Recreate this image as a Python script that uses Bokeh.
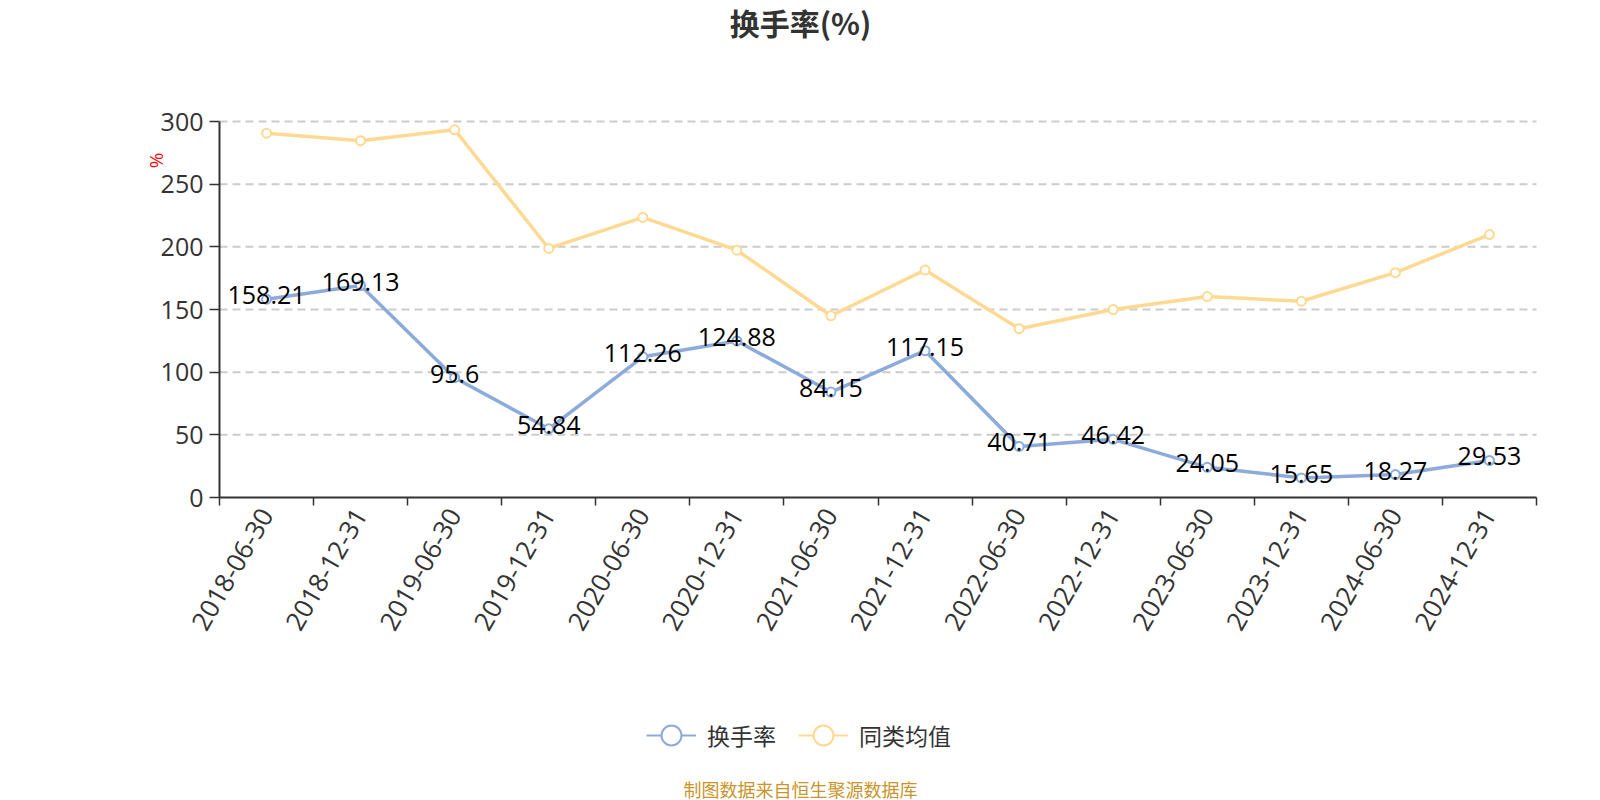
import math
from bokeh.plotting import figure
from bokeh.models import (ColumnDataSource, Range1d, FixedTicker, Label, Legend,
                          LegendItem)
from bokeh.embed import file_html
from bokeh.resources import INLINE

# Reporting dates (half-year)
dates = ["2018-06-30", "2018-12-31", "2019-06-30", "2019-12-31", "2020-06-30",
         "2020-12-31", "2021-06-30", "2021-12-31", "2022-06-30", "2022-12-31",
         "2023-06-30", "2023-12-31", "2024-06-30", "2024-12-31"]

# Turnover rate of the fund (%)
turnover = [158.21, 169.13, 95.6, 54.84, 112.26, 124.88, 84.15, 117.15,
            40.71, 46.42, 24.05, 15.65, 18.27, 29.53]

# Peer-group average turnover rate (%)
peer_avg = [290.7, 284.7, 293.4, 198.7, 223.5, 197.3, 145.0, 181.5,
            134.7, 150.0, 160.3, 156.6, 179.4, 209.8]

y_ticks = [0, 50, 100, 150, 200, 250, 300]

BLUE = "#8cabda"
YELLOW = "#ffd991"
AXIS = "#333333"
FONT = "Open Sans"
CJK = "Noto Sans CJK SC"

W, H = 1600, 800
# pixel box of the plotting area inside the canvas
LEFT, RIGHT, TOP, BOTTOM = 219, 1536, 121, 497
Y_MAX = 300

n = len(dates)
xs = [i + 0.5 for i in range(n)]

ux = (RIGHT - LEFT) / n          # px per category
uy = (BOTTOM - TOP) / Y_MAX      # px per percent

# the frame covers the whole canvas; axes sit at fixed data locations
p = figure(width=W, height=H, output_backend="svg", toolbar_location=None,
           x_range=Range1d(-LEFT / ux, n + (W - RIGHT) / ux),
           y_range=Range1d(-(H - BOTTOM) / uy, Y_MAX + TOP / uy),
           min_border=0, background_fill_color="white",
           border_fill_color="white")
p.outline_line_color = None
p.xgrid.grid_line_color = None
p.ygrid.grid_line_color = None


def px_x(px):
    return (px - LEFT) / ux


def px_y(py):
    return (BOTTOM - py) / uy


# dashed horizontal grid lines across the plotting area
p.segment(x0=0, x1=n, y0=y_ticks[1:], y1=y_ticks[1:], line_color="#cccccc",
          line_width=2, line_dash="8 5")

# x axis: labels at period centres, tick marks on period boundaries
xax = p.xaxis[0]
xax.fixed_location = 0
xax.bounds = (0, n)
xax.ticker = FixedTicker(ticks=xs, minor_ticks=list(range(n + 1)))
xax.major_label_overrides = {x: d for x, d in zip(xs, dates)}
xax.major_label_orientation = math.pi / 3
xax.major_tick_line_color = None
xax.major_tick_out = 8
xax.major_tick_in = 0
xax.minor_tick_line_color = AXIS
xax.minor_tick_line_width = 1.5
xax.minor_tick_out = 8
xax.minor_tick_in = 0
xax.axis_line_color = AXIS
xax.axis_line_width = 2
xax.major_label_text_font = FONT
xax.major_label_text_font_size = "26px"
xax.major_label_text_color = AXIS
xax.major_label_standoff = 5

yax = p.yaxis[0]
yax.fixed_location = 0
yax.bounds = (0, Y_MAX)
yax.ticker = FixedTicker(ticks=y_ticks)
yax.minor_tick_line_color = None
yax.major_tick_line_color = AXIS
yax.major_tick_line_width = 1.5
yax.major_tick_out = 10
yax.major_tick_in = 0
yax.axis_line_color = AXIS
yax.axis_line_width = 2
yax.major_label_text_font = FONT
yax.major_label_text_font_size = "25px"
yax.major_label_text_color = AXIS
yax.major_label_standoff = 6

src = ColumnDataSource(dict(x=xs, turnover=turnover, peer=peer_avg,
                            lbl=[str(v) for v in turnover]))

p.line("x", "peer", source=src, color=YELLOW, line_width=3.5)
p.scatter("x", "peer", source=src, size=9, line_color=YELLOW, line_width=2,
          fill_color="white")
p.line("x", "turnover", source=src, color=BLUE, line_width=3.5)
p.scatter("x", "turnover", source=src, size=9, line_color=BLUE, line_width=2,
          fill_color="white")
p.text("x", "turnover", text="lbl", source=src, text_align="center",
       text_baseline="middle", y_offset=-4, text_font_size="25px",
       text_font={"value": FONT}, text_color="black")

p.add_layout(Label(x=px_x(800), y=px_y(21), text="换手率(%)", text_align="center",
                   text_baseline="middle", text_font=CJK, text_font_style="bold",
                   text_font_size="30px", text_color=AXIS))
p.add_layout(Label(x=px_x(155), y=px_y(160), text="%", text_align="center",
                   text_baseline="middle", angle=math.pi / 2, text_font=FONT,
                   text_font_size="19px", text_color="red"))
p.add_layout(Label(x=px_x(800), y=px_y(788), text="制图数据来自恒生聚源数据库",
                   text_align="center", text_baseline="middle", text_font=CJK,
                   text_font_size="18px", text_color="#c9952b"))

# legend swatches: line with a large open circle (renderers kept hidden)
lb = p.line("x", "turnover", source=src, color=BLUE, line_width=2,
            visible=False)
mb = p.scatter("x", "turnover", source=src, size=20, line_color=BLUE,
               line_width=2, fill_color="white", visible=False)
ly = p.line("x", "peer", source=src, color=YELLOW, line_width=2,
            visible=False)
my = p.scatter("x", "peer", source=src, size=20, line_color=YELLOW,
               line_width=2, fill_color="white", visible=False)
legend = Legend(items=[LegendItem(label="换手率", renderers=[lb, mb]),
                       LegendItem(label="同类均值", renderers=[ly, my])],
                orientation="horizontal", location=(646, H - 760),
                glyph_width=50, glyph_height=50, label_height=50,
                label_standoff=11, spacing=22, padding=0, margin=0,
                border_line_color=None, background_fill_alpha=0,
                label_text_font=CJK, label_text_font_size="23px",
                label_text_color=AXIS)
p.add_layout(legend)

open("out.html", "w").write(file_html(p, INLINE))
